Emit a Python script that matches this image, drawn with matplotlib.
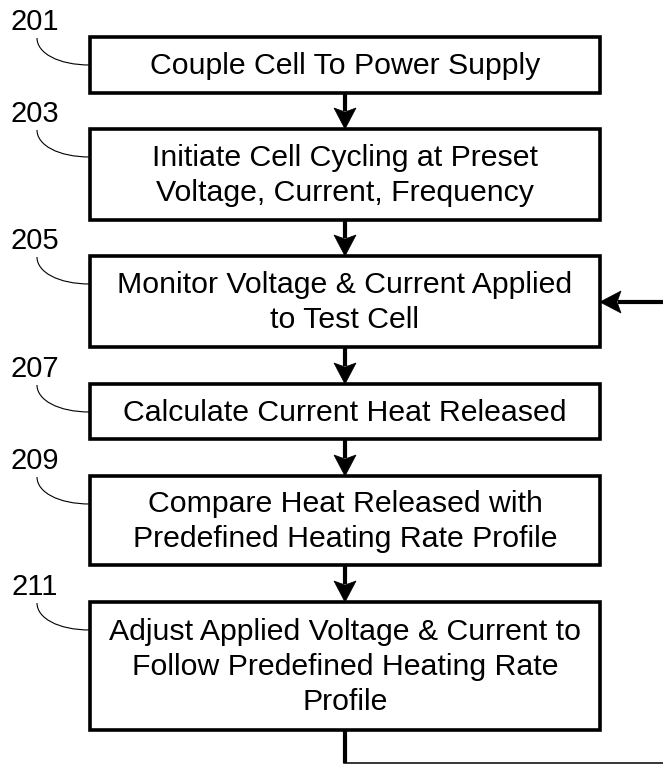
import matplotlib.pyplot as plt
from matplotlib.patches import Rectangle, Polygon, PathPatch
from matplotlib.path import Path

# step numbers and box texts
steps = ['201', '203', '205', '207', '209', '211']
texts = ['Couple Cell To Power Supply',
         'Initiate Cell Cycling at Preset\nVoltage, Current, Frequency',
         'Monitor Voltage & Current Applied\nto Test Cell',
         'Calculate Current Heat Released',
         'Compare Heat Released with\nPredefined Heating Rate Profile',
         'Adjust Applied Voltage & Current to\nFollow Predefined Heating Rate\nProfile']

# layout in pixel units (y grows downward)
W, H = 663, 765
x0, x1 = 90, 600
xc = (x0 + x1) / 2
tops = [37, 129, 256, 384, 476, 602]
bottoms = [93, 220, 347, 439, 565, 730]
loop_y = 302
bottom_y = 763

fig = plt.figure(figsize=(W / 100, H / 100), dpi=100)
ax = fig.add_axes([0, 0, 1, 1])
ax.set_xlim(0, W)
ax.set_ylim(H, 0)
ax.axis('off')

font = 'Liberation Sans'
lw_box = 2.6


def arrow_head(ax, tip, direction, length=21, width=22, notch=4):
    tx, ty = tip
    dx, dy = direction
    px, py = -dy, dx
    bx, by = tx - dx * length, ty - dy * length
    pts = [(tx, ty),
           (bx + px * width / 2, by + py * width / 2),
           (bx + dx * notch, by + dy * notch),
           (bx - px * width / 2, by - py * width / 2)]
    ax.add_patch(Polygon(pts, closed=True, fc='black', ec='black', lw=0.5))


for i, (num, txt) in enumerate(zip(steps, texts)):
    top, bot = tops[i], bottoms[i]
    ax.add_patch(Rectangle((x0, top), x1 - x0, bot - top, fill=False,
                           ec='black', lw=lw_box))
    ax.text(xc, (top + bot) / 2 + 1, txt, ha='center', va='center',
            fontsize=21.8, family=font, linespacing=1.33)
    # reference numeral and leader curve
    ax.text(35, top - 15, num, ha='center', va='center', fontsize=21,
            family=font)
    ly = top + 28
    verts = [(37, top + 1), (37, ly - 12), (58, ly), (x0, ly)]
    codes = [Path.MOVETO, Path.CURVE4, Path.CURVE4, Path.CURVE4]
    ax.add_patch(PathPatch(Path(verts, codes), fill=False, ec='black', lw=0.8))

    # arrows between boxes
    if i < len(steps) - 1:
        nxt = tops[i + 1]
        ax.plot([xc, xc], [bot, nxt - 18], color='black', lw=3,
                solid_capstyle='butt')
        arrow_head(ax, (xc, nxt), (0, 1))

# feedback loop
ax.plot([xc, xc], [bottoms[-1], bottom_y], color='black', lw=3,
        solid_capstyle='butt')
ax.plot([xc - 1, W], [bottom_y, bottom_y], color='black', lw=1.1)
ax.plot([x1 + 18, W], [loop_y, loop_y], color='black', lw=3,
        solid_capstyle='butt')
arrow_head(ax, (x1, loop_y), (-1, 0))

fig.savefig('out.png', dpi=100)
